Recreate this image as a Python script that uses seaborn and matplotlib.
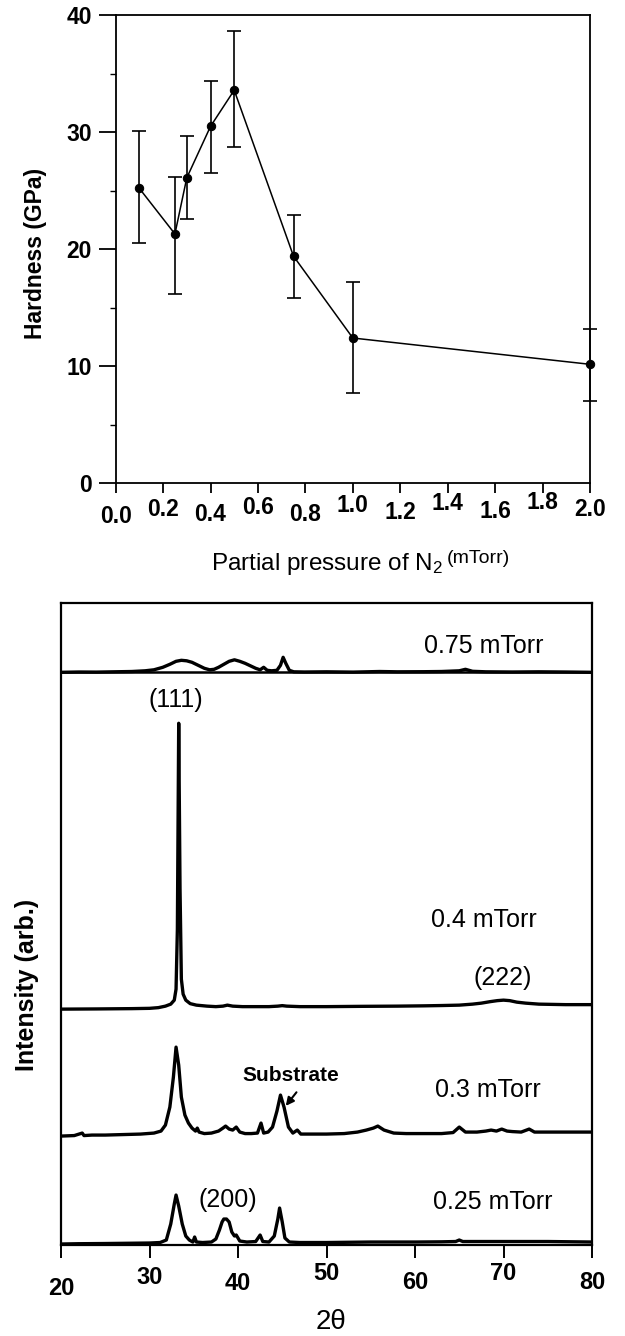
import numpy as np
import pandas as pd
import matplotlib
matplotlib.use("Agg")
import matplotlib.pyplot as plt
import seaborn as sns
from matplotlib.transforms import ScaledTranslation

# ---------------- data: hardness vs N2 partial pressure ----------------
pressure = [0.1, 0.25, 0.3, 0.4, 0.5, 0.75, 1.0, 2.0]
hardness = [25.2, 21.3, 26.1, 30.5, 33.6, 19.4, 12.4, 10.15]
err_low = [4.7, 5.1, 3.55, 4.0, 4.9, 3.6, 4.74, 3.1]
err_high = [4.9, 4.9, 3.6, 3.9, 5.1, 3.5, 4.75, 3.05]
p_ticks = [0.0, 0.2, 0.4, 0.6, 0.8, 1.0, 1.2, 1.4, 1.6, 1.8, 2.0]
p_ticklabels = ["0.0", "0.2", "0.4", "0.6", "0.8", "1.0", "1.2", "1.4", "1.6", "1.8", "2.0"]
h_ticks = [0, 10, 20, 30, 40]

# ---------------- data: XRD patterns (intensity above own baseline, arb.) ----------------
tt_075 = [20, 22, 24, 26, 28, 29.5, 30.5, 31.5, 32.3, 33.0, 33.6, 34.2, 34.8, 35.5, 36.2,
          36.8, 37.3, 37.8, 38.4, 39.0, 39.6, 40.2, 40.8, 41.4, 42.0, 42.5, 42.9, 43.3,
          43.8, 44.4, 44.8, 45.1, 45.4, 45.8, 46.3, 47.5, 50, 53, 56, 58, 61, 63, 65,
          65.7, 66.5, 68, 71, 74, 77, 80]
i_075 = [0, 0.3, 0.2, 0.5, 0.8, 1.5, 2.5, 5, 8, 11, 12, 11.5, 10, 7, 4,
         2.5, 3, 5, 8, 11, 12.5, 11, 9, 6.5, 4, 2.5, 5, 2,
         1.5, 2, 7, 15, 9, 2, 0.5, 0.3, 0.5, 0.2, 0.8, 0.5, 0.6, 0.8, 1.5,
         3, 1, 0.5, 0.3, 0.5, 0.3, 0]

tt_04 = [20, 24, 28, 30, 31, 31.8, 32.4, 32.8, 33.0, 33.15, 33.3, 33.45, 33.6, 33.8, 34.1,
         34.6, 35.3, 36.5, 37.5, 38.3, 38.8, 39.4, 40.5, 42, 43.5, 44.5, 45, 45.5, 47, 50,
         54, 58, 61, 63, 65, 66.5, 67.5, 68.5, 69.3, 70.0, 70.7, 71.5, 72.5, 74, 77, 80]
i_04 = [0, 0.2, 0.5, 0.8, 1.5, 3, 5, 9, 20, 80, 286, 120, 30, 15, 9,
        5.5, 4, 3, 2.5, 3, 4, 3, 2.5, 2.5, 2.5, 3, 3.5, 3, 2.5, 2.5,
        2.8, 3, 3.3, 3.6, 4, 5, 6, 7.5, 8.5, 9, 8.5, 7, 6, 5, 4.5, 4.5]

tt_03 = [20, 21.5, 22.4, 22.6, 23.5, 25, 27, 29, 30.5, 31.3, 31.8, 32.3, 32.7, 33.0, 33.3,
         33.6, 34.0, 34.4, 34.8, 35.2, 35.4, 35.6, 36.2, 37.0, 37.8, 38.3, 38.6, 39.0, 39.4,
         39.8, 40.2, 40.8, 41.5, 42.2, 42.6, 42.9, 43.4, 43.9, 44.4, 44.8, 45.2, 45.7, 46.2,
         46.7, 47.1, 48, 50, 52, 53.5, 54.5, 55.3, 55.8, 56.5, 57.6, 59, 61, 63, 64.3, 65.0,
         65.7, 67, 68, 68.6, 69.2, 69.8, 70.4, 71.0, 72.0, 72.9, 73.5, 75, 77, 80]
i_03 = [1, 1.5, 4, 1.5, 2, 2, 2.5, 3, 4, 6, 12, 30, 60, 90, 72,
        40, 22, 14, 9, 6, 9, 5, 3.5, 4, 6, 9, 11, 8, 7,
        10, 5, 3.5, 3.5, 4, 14, 4, 5, 10, 26, 42, 30, 10, 4,
        7, 3, 3, 3, 3.5, 5, 7, 9, 11, 7, 4, 3.5, 3.5, 3.5, 4.5, 10,
        5, 5, 6, 7, 6, 8, 6, 5.5, 5, 8, 5, 5, 5, 5]

tt_025 = [20, 22, 25, 28, 30, 31.2, 31.9, 32.4, 32.8, 33.0, 33.3, 33.7, 34.1, 34.5, 34.9,
          35.1, 35.3, 36, 37, 37.5, 37.9, 38.2, 38.4, 38.7, 39.0, 39.3, 39.6, 39.8, 40.2,
          41, 42, 42.5, 42.8, 43.5, 44.1, 44.5, 44.7, 45.0, 45.3, 45.8, 47, 50, 55, 60, 63,
          64.6, 65.0, 65.4, 67, 70, 75, 80]
i_025 = [0, 0.3, 0.5, 0.8, 1, 1.5, 4, 20, 40, 49, 38, 20, 8, 4, 2,
         7, 2, 1.5, 2, 5, 14, 22, 25, 25, 22, 12, 8, 9, 3,
         2, 2.5, 9, 2.5, 2, 8, 25, 36, 22, 6, 2, 1.5, 1.5, 2, 2, 2.2,
         2.5, 4, 2.5, 2.5, 2.5, 2.5, 2]

samples = ["0.75 mTorr", "0.4 mTorr", "0.3 mTorr", "0.25 mTorr"]
sample_tt = [tt_075, tt_04, tt_03, tt_025]
sample_int = [i_075, i_04, i_03, i_025]
stack_offsets = [573, 236, 108, 1]
tt_ticks = [20, 30, 40, 50, 60, 70, 80]

# ---------------- style ----------------
sns.set_theme(style="ticks")
plt.rcParams["font.family"] = ["Liberation Sans", "DejaVu Sans"]
plt.rcParams["mathtext.fontset"] = "custom"
plt.rcParams["mathtext.rm"] = "Liberation Sans"
plt.rcParams["mathtext.it"] = "Liberation Sans:italic"
plt.rcParams["mathtext.bf"] = "Liberation Sans:bold"
plt.rcParams["mathtext.default"] = "regular"
plt.rcParams["text.color"] = "black"
plt.rcParams["axes.labelcolor"] = "black"
plt.rcParams["xtick.color"] = "black"
plt.rcParams["ytick.color"] = "black"
plt.rcParams["axes.edgecolor"] = "black"

fig = plt.figure(figsize=(6.25, 13.36), dpi=100)
fig.patch.set_facecolor("white")

# ================= top panel =================
ax1 = fig.add_axes([0.185, 0.6385, 0.759, 0.350])
df_h = pd.DataFrame({"p": pressure, "h": hardness})
ax1.errorbar(pressure, hardness, yerr=[err_low, err_high], fmt="none", ecolor="black",
             elinewidth=1.2, capsize=5, capthick=1.2, clip_on=False, zorder=3)
sns.lineplot(data=df_h, x="p", y="h", ax=ax1, color="black", lw=1.1, marker="o",
             markersize=6, markeredgecolor="black", markerfacecolor="black",
             estimator=None, sort=False, clip_on=False, zorder=4)
ax1.set_xlim(0, 2.0)
ax1.set_ylim(0, 40)
ax1.set_xticks(p_ticks)
ax1.set_xticklabels(p_ticklabels)
ax1.set_yticks(h_ticks)
ax1.set_yticks([5, 15, 25, 35], minor=True)
for s in ax1.spines.values():
    s.set_visible(True)
    s.set_linewidth(1.3)
    s.set_color("black")
ax1.tick_params(axis="y", which="major", direction="out", length=12, width=1.3,
                labelsize=16.5, pad=5, colors="black")
ax1.tick_params(axis="y", which="minor", direction="out", length=4, width=1.0, colors="black")
ax1.tick_params(axis="x", which="major", direction="out", length=7.5, width=1.3,
                labelsize=16.5, pad=3, colors="black")
for lab in ax1.get_xticklabels() + ax1.get_yticklabels():
    lab.set_fontweight("bold")
ax1.set_ylabel("Hardness (GPa)", fontsize=16.5, fontweight="bold", va="center",
               color="black")
ax1.yaxis.set_label_coords(-0.168, 0.49)
ax1.set_xlabel(r"Partial pressure of N$_2$", fontsize=17.5, ha="right", va="baseline",
               color="black")
ax1.xaxis.set_label_coords(0.690, -0.186)
ax1.text(0.699, -0.171, "(mTorr)", transform=ax1.transAxes, ha="left", va="baseline",
         fontsize=14, color="black")

# ================= bottom panel =================
ax2 = fig.add_axes([0.0976, 0.0681, 0.8496, 0.4803])
rows = []
for name, tt, inten, off in zip(samples, sample_tt, sample_int, stack_offsets):
    for t, v in zip(tt, inten):
        rows.append({"two_theta": t, "intensity": v + off, "sample": name})
df_x = pd.DataFrame(rows)
sns.lineplot(data=df_x, x="two_theta", y="intensity", units="sample", estimator=None,
             sort=False, color="black", lw=2.4, ax=ax2)
ax2.axhline(stack_offsets[0], color="black", lw=1.8)
ax2.set_xlim(20, 80)
ax2.set_ylim(0, 642)
ax2.set_xticks(tt_ticks)
ax2.set_yticks([])
for s in ax2.spines.values():
    s.set_visible(True)
    s.set_linewidth(1.6)
    s.set_color("black")
ax2.tick_params(axis="x", direction="out", length=9, width=1.4, labelsize=17, pad=8,
                colors="black")
for lab in ax2.get_xticklabels():
    lab.set_fontweight("bold")
ax2.set_xlabel("2θ", fontsize=20, va="center", color="black")
ax2.xaxis.set_label_coords(0.508, -0.12)
ax2.set_ylabel("Intensity (arb.)", fontsize=18, fontweight="bold", va="center",
               color="black")
ax2.yaxis.set_label_coords(-0.064, 0.405)

ann_kw = dict(ha="center", va="center", fontsize=18, color="black")
ax2.text(67.8, 599, "0.75 mTorr", **ann_kw)
ax2.text(33.0, 545, "(111)", **ann_kw)
ax2.text(67.8, 325, "0.4 mTorr", **ann_kw)
ax2.text(69.9, 267, "(222)", **ann_kw)
ax2.text(68.2, 155, "0.3 mTorr", **ann_kw)
ax2.text(38.9, 45, "(200)", **ann_kw)
ax2.text(68.8, 43, "0.25 mTorr", **ann_kw)
ax2.text(46.0, 170, "Substrate", ha="center", va="center", fontsize=15,
         fontweight="bold", color="black")
ax2.annotate("", xy=(45.2, 137), xytext=(46.8, 155),
             arrowprops=dict(arrowstyle="-|>", color="black", lw=1.5, mutation_scale=12))

# slight vertical stagger of tick labels as in the scanned original
top_shift = [-7.5, 0, -5.6, 2, -5.6, 4, -3.7, 6, -2, 7, 0]
bot_shift = [-8, 3, -3, 7, -2, 7, -2]
for lab, d in zip(ax1.get_xticklabels(), top_shift):
    lab.set_transform(lab.get_transform() + ScaledTranslation(0, d / 100, fig.dpi_scale_trans))
for lab, d in zip(ax2.get_xticklabels(), bot_shift):
    lab.set_transform(lab.get_transform() + ScaledTranslation(0, d / 100, fig.dpi_scale_trans))

fig.savefig("out.png", dpi=100, facecolor="white")
